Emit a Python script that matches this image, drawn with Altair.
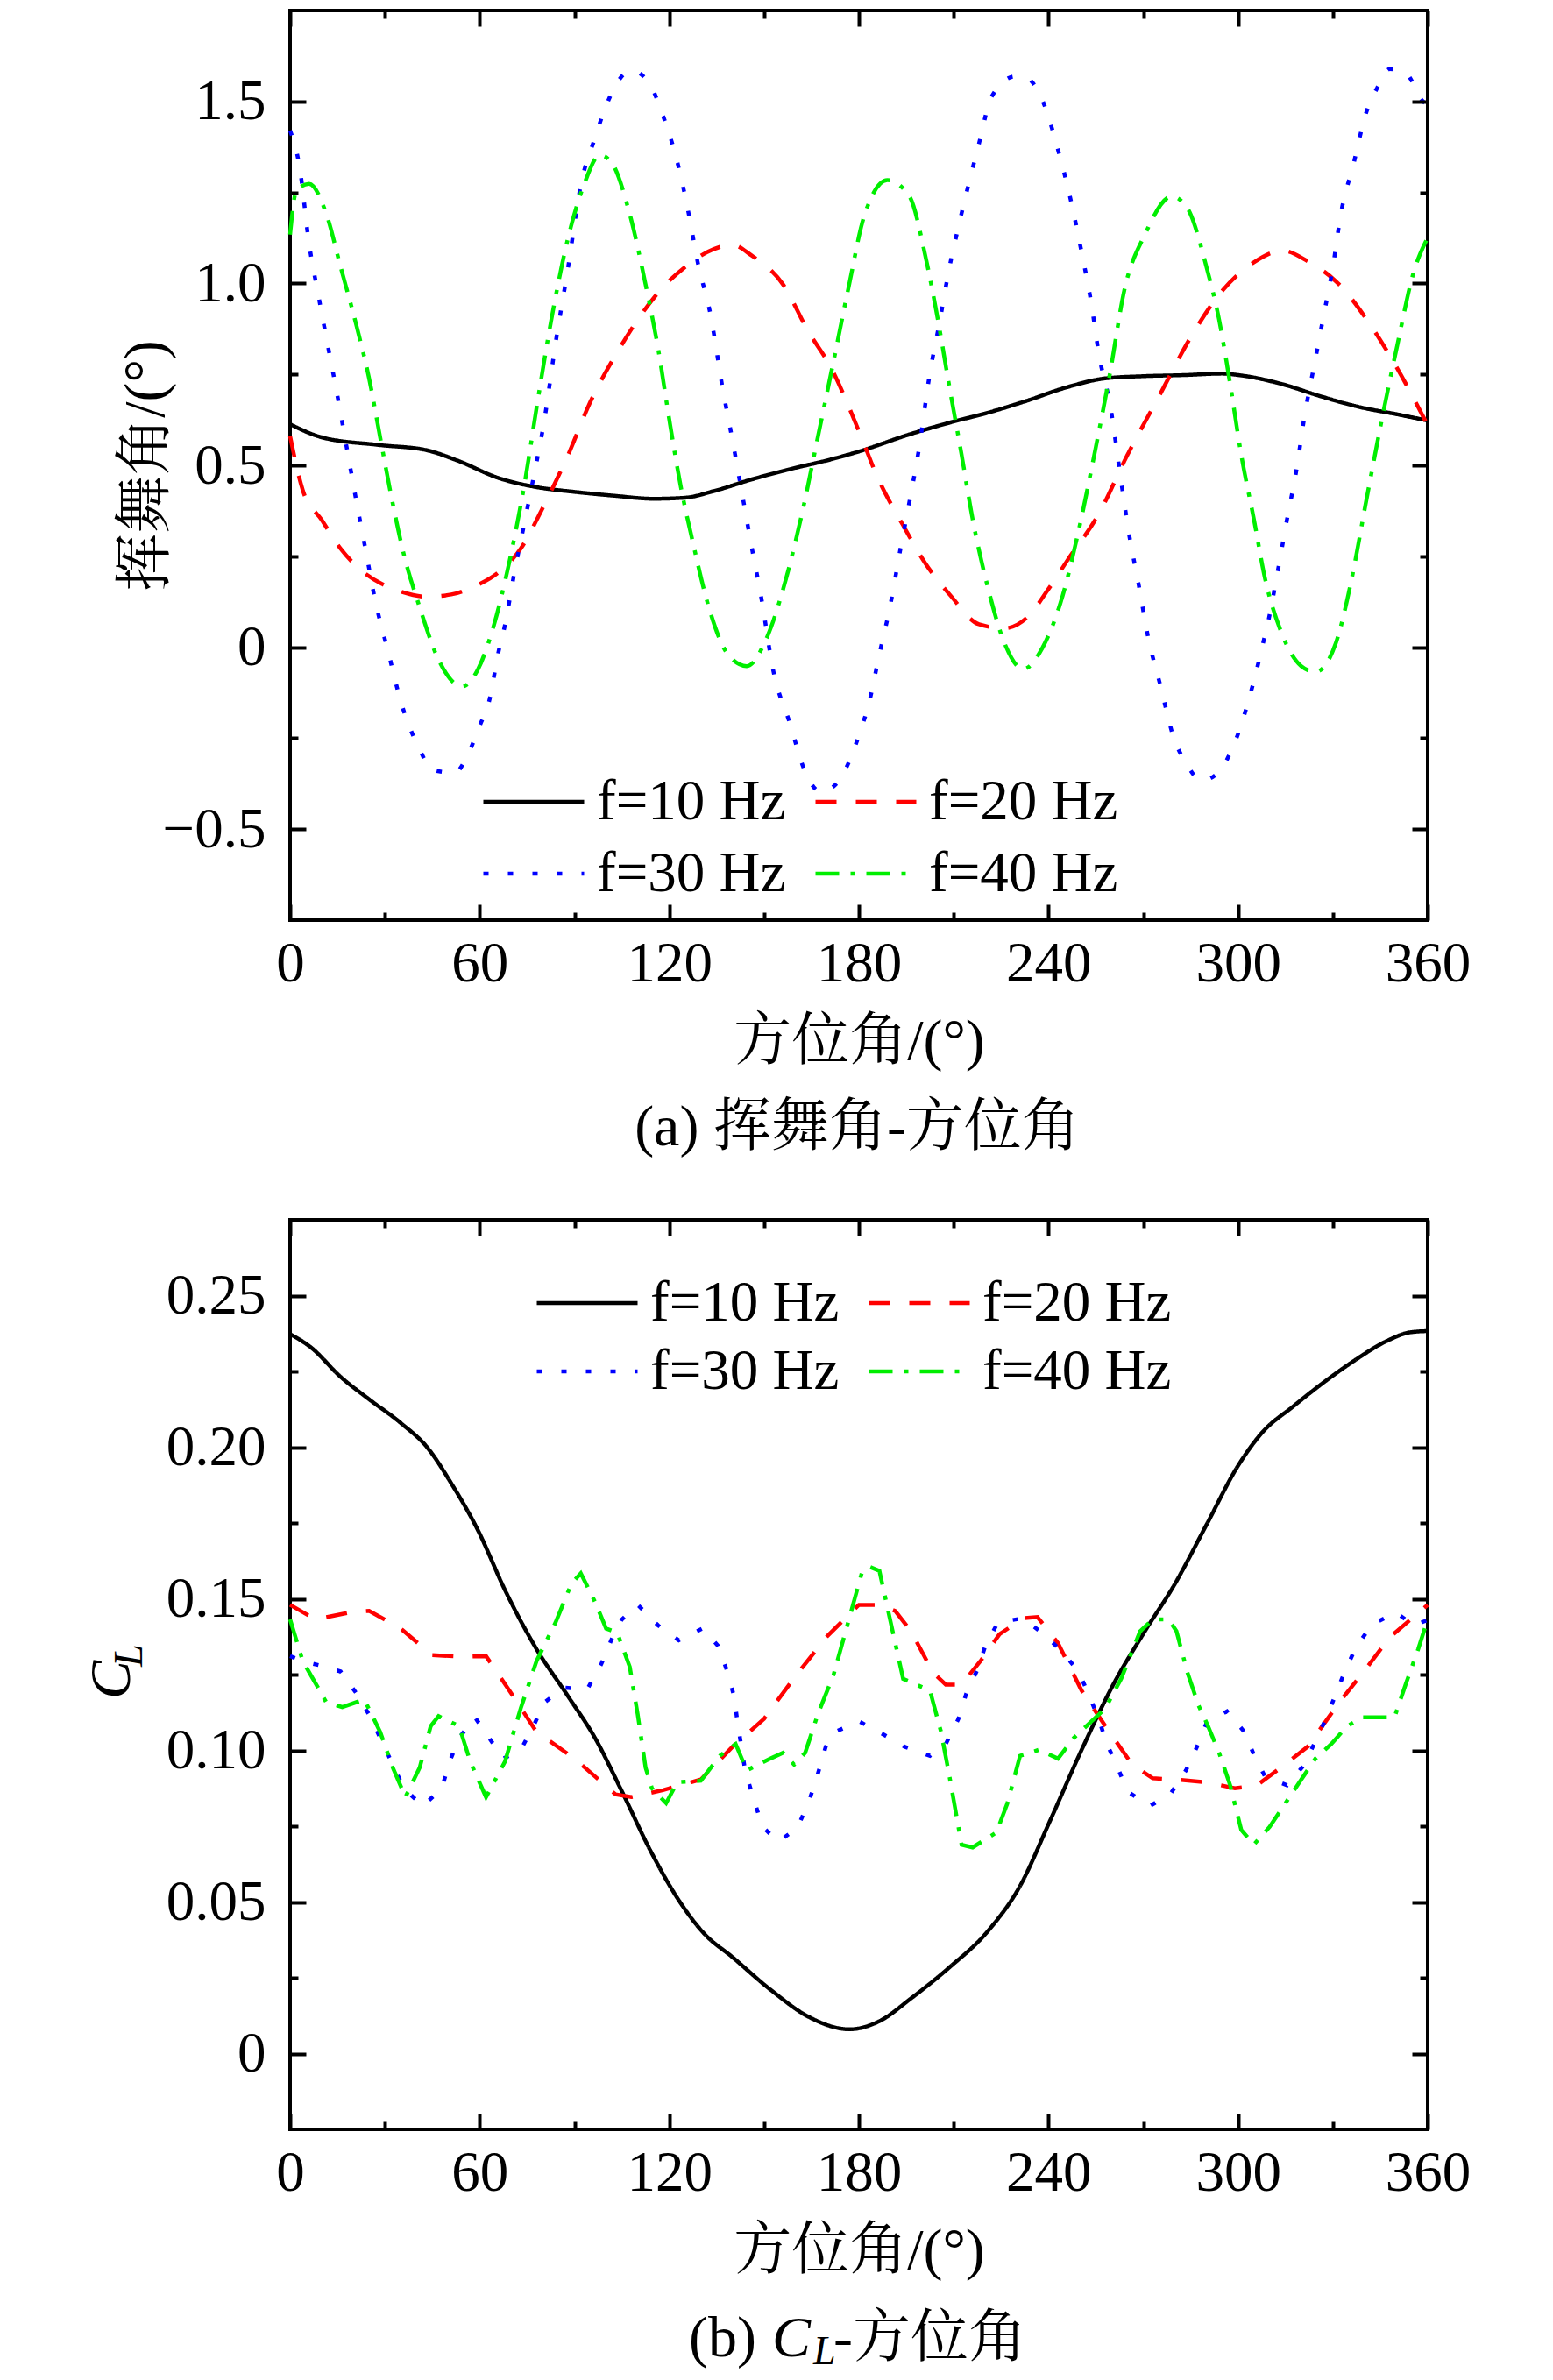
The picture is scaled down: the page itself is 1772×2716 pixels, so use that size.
import altair as alt
import pandas as pd

SERIES = ["f=10 Hz", "f=20 Hz", "f=30 Hz", "f=40 Hz"]
COLORS = ["#000000", "#ff0000", "#0000ff", "#00ee00"]
DASHES = [[1, 0], [24, 22], [6, 22], [27, 13, 5, 13]]

X_MAJOR = [0, 60, 120, 180, 240, 300, 360]
X_MINOR = [30, 90, 150, 210, 270, 330]

# ---------------- panel (a): flapping angle ----------------
A_Y_MAJOR = [-0.5, 0, 0.5, 1.0, 1.5]
A_Y_MINOR = [-0.25, 0.25, 0.75, 1.25]

A_X10 = [0, 10, 28, 43, 53, 66, 78, 90, 103, 115, 125, 134, 146, 158, 171, 180, 196, 209, 221, 233,
         246, 258, 270, 283, 295, 301, 314, 326, 338, 351, 360]
A_Y10 = [0.613, 0.577, 0.556, 0.542, 0.513, 0.465, 0.44, 0.427, 0.416, 0.408, 0.411, 0.429, 0.461,
         0.489, 0.516, 0.538, 0.585, 0.618, 0.645, 0.677, 0.715, 0.739, 0.745, 0.748, 0.752, 0.747,
         0.723, 0.690, 0.661, 0.639, 0.623]

A_X20 = [0, 4, 10, 16, 22, 29, 35, 43, 51, 58, 66, 73, 80, 88, 95, 103, 110, 117, 125, 134, 140, 146,
         156, 164, 171, 180, 186, 194, 201, 209, 218, 226, 233, 240, 246, 256, 265, 275, 285, 295, 305,
         314, 322, 332, 342, 349, 360]
A_Y20 = [0.58, 0.432, 0.35, 0.271, 0.215, 0.174, 0.153, 0.139, 0.145, 0.166, 0.206, 0.271, 0.384,
         0.529, 0.674, 0.803, 0.9, 0.98, 1.045, 1.094, 1.106, 1.077, 0.997, 0.868, 0.771, 0.594, 0.465,
         0.335, 0.231, 0.142, 0.063, 0.052, 0.08, 0.16, 0.239, 0.368, 0.529, 0.69, 0.852, 0.98, 1.058,
         1.09, 1.061, 0.997, 0.884, 0.787, 0.61]

A_X30 = [0, 3, 6, 9, 12, 15, 18, 21, 24, 27, 31, 35, 41, 45, 52, 57, 60, 63, 66, 68, 71, 74, 77, 80.5,
         84, 88, 92, 96.5, 99, 108, 114, 117.5, 122.5, 126, 129, 133, 137, 140, 143, 146, 149, 153, 158,
         163, 168, 173, 177.5, 180.5, 183, 186.5, 190, 193, 196, 199, 202.5, 205.5, 208.5, 212, 218, 222,
         229.5, 233, 238, 243, 247, 250.5, 253.5, 256, 259.5, 263, 265.5, 268.5, 271.5, 275.5, 279.5,
         283.5, 288.5, 294, 298, 301, 303.5, 305.5, 307.5, 309.5, 312.5, 315.5, 318.5, 321, 324, 327,
         330, 332.5, 336.5, 340.5, 344, 348, 353.5, 358, 360]
A_Y30 = [1.42, 1.32, 1.11, 0.965, 0.827, 0.69, 0.545, 0.40, 0.263, 0.126, -0.011, -0.148, -0.281,
         -0.337, -0.345, -0.281, -0.216, -0.148, -0.011, 0.061, 0.206, 0.335, 0.465, 0.626, 0.835,
         1.045, 1.27, 1.40, 1.465, 1.585, 1.545, 1.473, 1.335, 1.198, 1.058, 0.916, 0.706, 0.569, 0.424,
         0.279, 0.142, -0.068, -0.205, -0.342, -0.398, -0.374, -0.302, -0.229, -0.16, -0.019, 0.118,
         0.263, 0.40, 0.545, 0.755, 0.892, 1.037, 1.174, 1.384, 1.513, 1.569, 1.565, 1.505, 1.368,
         1.231, 1.085, 0.948, 0.803, 0.666, 0.456, 0.311, 0.174, 0.029, -0.108, -0.245, -0.318, -0.366,
         -0.342, -0.281, -0.213, -0.14, -0.076, -0.003, 0.069, 0.206, 0.352, 0.489, 0.634, 0.771, 0.908,
         1.045, 1.19, 1.327, 1.468, 1.537, 1.589, 1.574, 1.505, 1.49]

A_X40 = [0, 2, 6, 11.5, 16, 21, 25, 28.5, 32, 36, 41, 47, 54.5, 59.5, 64.5, 69.5, 74.5, 78, 83, 88, 93,
         98, 101.5, 107.5, 112.5, 116.5, 120, 123.5, 127.5, 132.5, 138.5, 144.5, 151, 157, 162, 167, 172,
         177, 181.5, 189, 196, 201, 205, 208.5, 212.5, 216, 221, 226, 232, 238, 244.5, 249.5, 254.5,
         259.5, 264, 270.5, 279, 284, 290, 294, 297.5, 301, 305, 308.5, 313.5, 320, 324.5, 331, 336,
         340.5, 345.5, 350.5, 355.5, 360]
A_Y40 = [1.134, 1.255, 1.274, 1.19, 1.045, 0.884, 0.739, 0.577, 0.416, 0.255, 0.11, -0.035, -0.108,
         -0.06, 0.061, 0.239, 0.465, 0.658, 0.916, 1.126, 1.271, 1.352, 1.335, 1.19, 0.997, 0.819, 0.626,
         0.448, 0.287, 0.11, -0.019, -0.052, 0.029, 0.19, 0.368, 0.577, 0.787, 1.0, 1.18, 1.284, 1.239,
         1.077, 0.9, 0.723, 0.529, 0.352, 0.158, 0.013, -0.06, -0.003, 0.142, 0.319, 0.529, 0.755,
         0.981, 1.134, 1.239, 1.206, 1.045, 0.9, 0.723, 0.529, 0.352, 0.19, 0.045, -0.052, -0.068, 0.013,
         0.19, 0.4, 0.626, 0.835, 1.029, 1.126]

# ---------------- panel (b): lift coefficient ----------------
B_Y_MAJOR = [0, 0.05, 0.10, 0.15, 0.20, 0.25]
B_Y_MINOR = [0.025, 0.075, 0.125, 0.175, 0.225]

B_X10 = [0, 6.5, 16, 25, 35, 43.5, 51, 59.5, 68, 78, 88, 96.5, 105, 114, 122.5, 131, 140, 152, 164.5,
         177, 186.5, 196.5, 208.5, 221, 231, 240.5, 250.5, 260.5, 270.5, 280, 290, 300, 307.5, 317.5,
         327, 337, 347, 354.5, 360]
B_Y10 = [0.2373, 0.233, 0.2232, 0.2158, 0.208, 0.1998, 0.1881, 0.1725, 0.1529, 0.1334, 0.1178, 0.1041,
         0.0865, 0.067, 0.0514, 0.0396, 0.0318, 0.0211, 0.0119, 0.008, 0.0107, 0.0182, 0.0283, 0.0406,
         0.0553, 0.0768, 0.1002, 0.1217, 0.1393, 0.1549, 0.1744, 0.1939, 0.2047, 0.2135, 0.2213, 0.2287,
         0.235, 0.2379, 0.2383]

B_X20 = [0, 8, 20, 25, 35, 45, 55, 62, 70, 78, 90, 103, 108, 118, 130, 140, 150, 160, 170, 180, 186.5,
         191.5, 196.5, 203.5, 207.5, 212.5, 218.5, 224.5, 232, 236.5, 243, 250.5, 258, 266.5, 273, 280,
         290, 299, 306, 313.5, 322, 332, 339.5, 348, 360]
B_Y20 = [0.148, 0.1432, 0.1457, 0.146, 0.1402, 0.1314, 0.1309, 0.1311, 0.1188, 0.1061, 0.0973, 0.0855,
         0.0846, 0.0869, 0.0904, 0.1012, 0.1104, 0.1246, 0.1377, 0.148, 0.148, 0.146, 0.1393, 0.1256,
         0.1217, 0.1217, 0.1295, 0.1383, 0.1436, 0.144, 0.1354, 0.1197, 0.108, 0.0953, 0.0908, 0.0904,
         0.0895, 0.0875, 0.0885, 0.0943, 0.1012, 0.1158, 0.1256, 0.1373, 0.148]

B_X30 = [0, 5, 10, 16, 21, 25.5, 28.5, 32.5, 36, 42, 48, 50.5, 53.5, 58.5, 63, 67.5, 73, 77, 80.5, 86.5,
         94, 98.5, 102, 105, 110, 116.5, 123, 130.5, 135.5, 138.5, 140.5, 141.5, 144, 146.5, 149.5,
         154.5, 160.5, 164, 166.5, 169.5, 172.5, 180, 187, 194.5, 202.5, 207.5, 211.5, 214, 217.5, 220,
         224, 232, 238.5, 244.5, 249.5, 253, 256, 258.5, 261.5, 265, 272, 278.5, 283.5, 287, 290, 296.5,
         302, 305, 308.5, 315.5, 321, 324.5, 328, 331, 334, 337.5, 342.5, 350, 355.5, 360]
B_Y30 = [0.1311, 0.1291, 0.1279, 0.126, 0.1188, 0.1109, 0.1041, 0.0953, 0.0875, 0.0816, 0.0875, 0.0963,
         0.1041, 0.1109, 0.1041, 0.0973, 0.1002, 0.108, 0.1158, 0.1207, 0.1201, 0.1285, 0.1373, 0.1432,
         0.148, 0.1412, 0.1363, 0.1402, 0.1344, 0.1256, 0.1178, 0.11, 0.0934, 0.0846, 0.0748, 0.0699,
         0.0744, 0.0826, 0.0904, 0.1012, 0.1061, 0.1096, 0.1057, 0.1012, 0.0982, 0.1021, 0.1104, 0.1188,
         0.1266, 0.1344, 0.1422, 0.1436, 0.1383, 0.1324, 0.126, 0.1178, 0.11, 0.1021, 0.0953, 0.0865,
         0.0816, 0.0855, 0.0934, 0.1012, 0.109, 0.1129, 0.1061, 0.0986, 0.0914, 0.0885, 0.0953, 0.1031,
         0.1109, 0.1188, 0.1266, 0.1344, 0.1416, 0.1455, 0.1412, 0.143]

B_X40 = [0, 4, 11.5, 16.5, 23.5, 28.5, 32.5, 36.5, 41, 44.5, 47, 53.5, 57, 62, 68, 73, 78, 84, 89, 92,
         96.5, 100, 103.5, 107.5, 110, 112.5, 114.5, 119, 122.5, 130, 136, 141, 144.5, 152, 156, 159.5,
         163, 167, 172, 176, 181, 183.5, 186.5, 191.5, 194, 202.5, 206, 208.5, 212.5, 216, 223.5, 227,
         231, 237, 243, 248, 253, 258, 263, 269, 273, 278, 280.5, 284, 287.5, 290.5, 294, 297.5, 301,
         305, 310, 315, 320, 324.5, 329.5, 334.5, 339.5, 349.5, 353, 357, 360]
B_Y40 = [0.1432, 0.1295, 0.1158, 0.1143, 0.1168, 0.1061, 0.0943, 0.0846, 0.0943, 0.108, 0.1113, 0.108,
         0.0963, 0.0846, 0.0963, 0.1139, 0.1295, 0.1422, 0.1549, 0.1584, 0.149, 0.1402, 0.1389, 0.1275,
         0.1119, 0.0943, 0.0875, 0.0826, 0.0895, 0.09, 0.0982, 0.1021, 0.0934, 0.0973, 0.0992, 0.0953,
         0.0992, 0.1119, 0.125, 0.14, 0.1588, 0.1605, 0.1592, 0.1354, 0.1236, 0.1197, 0.1061, 0.0924,
         0.0689, 0.068, 0.0729, 0.0826, 0.0982, 0.1002, 0.0973, 0.1041, 0.109, 0.1139, 0.1236, 0.1393,
         0.1432, 0.1432, 0.1393, 0.1256, 0.1148, 0.108, 0.0992, 0.0885, 0.0738, 0.0689, 0.0748, 0.0826,
         0.0904, 0.0973, 0.1021, 0.108, 0.1109, 0.1109, 0.1217, 0.1334, 0.1432]

X_TITLE = "方位角/(°)"
A_Y_TITLE = "挥舞角/(°)"
A_CAPTION = "(a) 挥舞角-方位角"
B_YT_MAIN = "C"
B_YT_SUB = "L"
B_CAP_1 = "(b)"
B_CAP_2 = "C"
B_CAP_3 = "L"
B_CAP_4 = "-方位角"

W, H = 1298, 1038
FONT = "Liberation Serif"
TFONT = "Liberation Serif, Noto Serif CJK SC, Noto Sans CJK SC"
FS = 65
TFS = 66


def long_df(parts):
    rows = []
    for name, xs, ys in parts:
        for x, y in zip(xs, ys):
            rows.append({"s": name, "x": x, "y": y})
    return pd.DataFrame(rows)


def legend(lx, ly, clip):
    return alt.Legend(orient="none", legendX=lx, legendY=ly, columns=2, direction="horizontal",
                      title=None, symbolType="stroke", symbolSize=115 * 115, symbolStrokeWidth=4.5,
                      labelFont=FONT, labelFontSize=FS, labelColor="black", labelLimit=0,
                      labelOffset=12, columnPadding=31, rowPadding=0, clipHeight=clip, padding=0)


def tick_axis(orient, values, size):
    return alt.Axis(orient=orient, values=values, tickSize=size, offset=-size, labels=False,
                    domain=False, grid=False, ticks=True, tickColor="black", tickWidth=4,
                    title=None, zindex=2)


def panel(df_smooth, df_lin, ydom, ymaj, ymin, yfmt, ytitle, leg, texts):
    xs = alt.Scale(domain=[0, 360], nice=False, zero=False)
    ys = alt.Scale(domain=ydom, nice=False, zero=False)
    color = alt.Color("s:N", scale=alt.Scale(domain=SERIES, range=COLORS), legend=legend(*leg))
    dash = alt.StrokeDash("s:N", scale=alt.Scale(domain=SERIES, range=DASHES), legend=legend(*leg))

    x_lab = alt.Axis(orient="bottom", values=X_MAJOR, ticks=False, tickSize=0, domain=False,
                     grid=False, labelFont=FONT, labelFontSize=FS, labelColor="black",
                     labelPadding=18, labelFlush=False, labelOverlap=False, format="d",
                     title=X_TITLE, titleFont=TFONT, titleFontSize=TFS, titleFontWeight="normal",
                     titleColor="black", titleX=W / 2, titleY=158, titleAlign="center",
                     titleBaseline="alphabetic")
    yargs = dict(orient="left", values=ymaj, ticks=False, tickSize=0, domain=False, grid=False,
                 labelFont=FONT, labelFontSize=FS, labelColor="black", labelPadding=28,
                 labelFlush=False, labelOverlap=False,
                 labelExpr="datum.value == 0 ? '0' : format(datum.value, '%s')" % yfmt)
    if ytitle:
        y_lab = alt.Axis(title=ytitle, titleFont=TFONT, titleFontSize=TFS, titleFontWeight="normal",
                         titleColor="black", titleAngle=270, titleX=-145, titleY=H / 2,
                         titleAlign="center", titleBaseline="alphabetic", **yargs)
    else:
        y_lab = alt.Axis(title=None, **yargs)

    layers = []
    layers.append(alt.Chart(df_smooth).mark_line(strokeWidth=4.5, interpolate="monotone").encode(
        x=alt.X("x:Q", scale=xs, axis=x_lab),
        y=alt.Y("y:Q", scale=ys, axis=y_lab),
        color=color, strokeDash=dash))
    if df_lin is not None:
        layers.append(alt.Chart(df_lin).mark_line(strokeWidth=4.5, interpolate="linear").encode(
            x=alt.X("x:Q", scale=xs, axis=None),
            y=alt.Y("y:Q", scale=ys, axis=None),
            color=color, strokeDash=dash))
    tick_specs = [("bottom", "left", X_MAJOR, ymaj, 18), ("top", "right", X_MAJOR, ymaj, 18),
                  ("bottom", "left", X_MINOR, ymin, 9), ("top", "right", X_MINOR, ymin, 9)]
    for xo, yo, xv, yv, sz in tick_specs:
        layers.append(alt.Chart(df_smooth).mark_line(strokeOpacity=0).encode(
            x=alt.X("x:Q", scale=xs, axis=tick_axis(xo, xv, sz)),
            y=alt.Y("y:Q", scale=ys, axis=tick_axis(yo, yv, sz))))
    for t in texts:
        txt, px, py, size, style, angle = t
        kw = dict(font=TFONT, fontSize=size, align="left" if angle or style == "left" else "center",
                  baseline="alphabetic", color="black")
        if style == "italic":
            kw["fontStyle"] = "italic"
            kw["align"] = "left"
        if angle:
            kw["angle"] = angle
        layers.append(alt.Chart(pd.DataFrame({"t": [txt]})).mark_text(**kw).encode(
            x=alt.value(px), y=alt.value(py), text="t:N"))
    return alt.layer(*layers).resolve_axis(x="independent", y="independent").properties(
        width=W, height=H)


dfa = long_df([(SERIES[0], A_X10, A_Y10), (SERIES[1], A_X20, A_Y20),
               (SERIES[2], A_X30, A_Y30), (SERIES[3], A_X40, A_Y40)])
dfb_s = long_df([(SERIES[0], B_X10, B_Y10)])
dfb_l = long_df([(SERIES[1], B_X20, B_Y20), (SERIES[2], B_X30, B_Y30), (SERIES[3], B_X40, B_Y40)])

top = panel(dfa, None, [-0.75, 1.75], A_Y_MAJOR, A_Y_MINOR, ".1f", A_Y_TITLE, (218, 862, 82),
            [(A_CAPTION, W / 2 - 2, 1295, TFS, "center", 0)])
bottom = panel(dfb_s, dfb_l, [-0.025, 0.275], B_Y_MAJOR, B_Y_MINOR, ".2f", None, (279, 56, 78),
               [(B_YT_MAIN, -183, 547, TFS, "italic", 270),
                (B_YT_SUB, -169, 510, 46, "italic", 270),
                (B_CAP_1, 455, 1297, TFS, "left", 0),
                (B_CAP_2, 550, 1297, TFS, "italic", 0),
                (B_CAP_3, 597, 1306, 46, "italic", 0),
                (B_CAP_4, 620, 1297, TFS, "left", 0)])

chart = alt.vconcat(top, bottom, spacing=66).resolve_scale(
    color="independent", strokeDash="independent").resolve_legend(
    color="independent", strokeDash="independent").properties(
    padding={"left": 85, "top": 0, "right": 5, "bottom": 5}, background="white"
).configure_view(stroke="black", strokeWidth=4)

chart.save("out.html", embed_options={"renderer": "svg", "actions": False})
